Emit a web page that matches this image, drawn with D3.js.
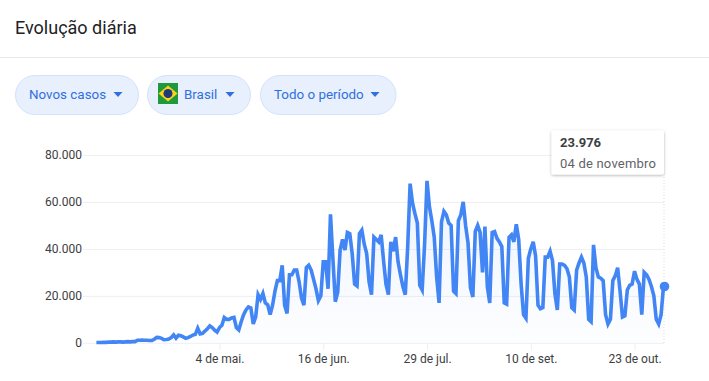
<!DOCTYPE html>
<html lang="pt-BR">
<head>
<meta charset="utf-8">
<title>Evolução diária</title>
<script src="https://cdn.jsdelivr.net/npm/d3@7"></script>
<style>
    html, body { margin: 0; padding: 0; background: #fff; overflow: hidden; }
    svg { display: block; font-family: Roboto, Arial, sans-serif; }
</style>
</head>
<body>
<script>
// Data: new cases per day, first value is 14 March 2020
const firstDay = new Date(2020, 2, 14);
const newCases = [
    100, 100, 100, 200, 200, 300, 300, 400, 300, 400, 400, 300, 400, 500, 400, 500, 500,
    1100, 1100, 1200, 1100, 1100, 1000, 1000, 1500, 2300, 2200, 1900, 1300, 1400, 1600, 2200,
    3400, 2000, 3200, 3000, 2500, 1900, 2200, 2700, 3300, 3600, 6200, 3800, 4000, 5000, 6000,
    7200, 6500, 5400, 4600, 6500, 7500, 10800, 10000, 10000, 10600, 10800, 6500, 5500, 9000,
    12000, 14000, 15300, 14800, 8000, 11000, 20500, 18500, 21000, 17000, 16200, 12000, 16000,
    22000, 26500, 26500, 33000, 16000, 12500, 29000, 29000, 31000, 31000, 26000, 19000,
    16000, 32000, 33000, 31000, 27000, 23000, 18000, 20000, 34500, 34500, 23000, 54700, 36000,
    17500, 21500, 39500, 44000, 39500, 47000, 46500, 38000, 25000, 24200, 46500, 48000, 42000,
    38000, 26000, 20500, 45000, 44000, 43000, 46000, 35000, 25000, 20500, 43000, 39000, 45000,
    34500, 29000, 24000, 20500, 41000, 67800, 59500, 55000, 51000, 24500, 22500, 42000, 69000,
    58000, 52000, 45000, 28000, 17000, 51500, 56000, 54500, 51000, 50000, 22000, 21000, 52000,
    54500, 60000, 50000, 42500, 23500, 19500, 47500, 50000, 47000, 30000, 49500, 24000, 17000,
    47000, 47400, 44500, 43000, 41000, 17000, 16500, 45000, 46000, 43000, 50500, 44000, 25000,
    12000, 10500, 36000, 40000, 43000, 37000, 16000, 14500, 15000, 36500, 36500, 39000, 35000,
    21000, 14000, 33500, 33500, 33000, 31500, 28000, 15000, 14000, 31000, 34000, 36500, 34000,
    28000, 10000, 9000, 41700, 32000, 28000, 27500, 26500, 12000, 8000, 10000, 26500, 28500,
    32000, 22000, 11000, 11500, 22500, 24500, 25000, 30500, 27000, 25000, 12000, 30000, 29000,
    27000, 24000, 20000, 10000, 8000, 12000, 23976
];
const yTicks = [0, 20000, 40000, 60000, 80000];
const xTickDates = [new Date(2020, 4, 4), new Date(2020, 5, 16), new Date(2020, 6, 29), new Date(2020, 8, 10), new Date(2020, 9, 23)];
const xTickLabels = ["4 de mai.", "16 de jun.", "29 de jul.", "10 de set.", "23 de out."];
const pillLabels = ["Novos casos", "Brasil", "Todo o período"];

const width = 709, height = 381;
const lineColor = "#4285f4";

const days = newCases.map(function (d, i) { return d3.timeDay.offset(firstDay, i); });

let svg = d3.select("body").append("svg")
    .attr("width", width)
    .attr("height", height);

// set the ranges
let x = d3.scaleTime().domain([firstDay, days[days.length - 1]]).range([96.4, 663.5]);
let y = d3.scaleLinear().domain([0, 80000]).range([342.8, 155]);

// header
svg.append("text")
    .attr("x", 15).attr("y", 34)
    .style("font-size", "18px")
    .style("fill", "#202124")
    .text("Evolução diária");

svg.append("line")
    .attr("x1", 0).attr("x2", width)
    .attr("y1", 57.5).attr("y2", 57.5)
    .style("stroke", "#e8eaed");

// filter pills
const pills = [
    {x: 15, w: 123, textX: 29, arrowX: 118},
    {x: 147, w: 103, textX: 184, arrowX: 230},
    {x: 260, w: 135.5, textX: 274, arrowX: 375}
];
pills.forEach(function (p, i) {
    svg.append("rect")
        .attr("x", p.x + 0.5).attr("y", 75.5)
        .attr("width", p.w).attr("height", 39)
        .attr("rx", 19.5)
        .style("fill", "#e8f0fe")
        .style("stroke", "#d2e3fc");
    svg.append("text")
        .attr("x", p.textX).attr("y", 99)
        .style("font-size", "13.4px")
        .style("fill", "#2f6fde")
        .text(pillLabels[i]);
    svg.append("path")
        .attr("d", "M" + (p.arrowX - 4.5) + ",92 h9 l-4.5,5 z")
        .style("fill", "#2f6fde");
});

// flag
let flag = svg.append("g").attr("transform", "translate(158,83)");
flag.append("rect").attr("width", 20).attr("height", 21).style("fill", "#1e9a3c");
flag.append("path").attr("d", "M10,2.5 L19.5,10.5 L10,18.5 L0.5,10.5 Z").style("fill", "#fcd116");
flag.append("circle").attr("cx", 10).attr("cy", 10.5).attr("r", 4.5).style("fill", "#1d3a7d");

// gradient under the line
let grad = svg.append("defs").append("linearGradient")
    .attr("id", "areaFill")
    .attr("x1", 0).attr("x2", 0).attr("y1", 0).attr("y2", 1);
grad.append("stop").attr("offset", "0%").style("stop-color", lineColor).style("stop-opacity", 0.1);
grad.append("stop").attr("offset", "100%").style("stop-color", lineColor).style("stop-opacity", 0.01);

// Y axis with grid lines
let yAxis = svg.append("g")
    .attr("transform", "translate(664,0)")
    .call(d3.axisLeft(y)
        .tickValues(yTicks)
        .tickSize(581)
        .tickPadding(1)
        .tickFormat(function (d) { return d3.format(",")(d).replace(/,/g, "."); }));
yAxis.select(".domain").remove();
yAxis.selectAll("line").style("stroke", "#eeeff1");
yAxis.selectAll("text").style("font-size", "12px").style("fill", "#3c4043").style("font-family", "Roboto, Arial, sans-serif");

// X axis
let xAxis = svg.append("g")
    .attr("transform", "translate(0,343)")
    .call(d3.axisBottom(x)
        .tickValues(xTickDates)
        .tickSize(7)
        .tickPadding(4)
        .tickFormat(function (d, i) { return xTickLabels[i]; }));
xAxis.select(".domain").remove();
xAxis.selectAll("line").style("stroke", "#eeeff1");
xAxis.selectAll("text").style("font-size", "12px").style("fill", "#3c4043").style("font-family", "Roboto, Arial, sans-serif");

// area and line
let area = d3.area()
    .x(function (d, i) { return x(days[i]); })
    .y0(y(0))
    .y1(function (d) { return y(d); });
let line = d3.line()
    .x(function (d, i) { return x(days[i]); })
    .y(function (d) { return y(d); });

svg.append("path").datum(newCases)
    .attr("d", area)
    .style("fill", "url(#areaFill)");

const lastX = x(days[days.length - 1]);
const lastY = y(newCases[newCases.length - 1]);

// dotted leader from the tooltip to the axis
svg.append("line")
    .attr("x1", lastX + 0.5).attr("x2", lastX + 0.5)
    .attr("y1", 174).attr("y2", 343)
    .style("stroke", "#dadce0")
    .style("stroke-dasharray", "1,2");

svg.append("path").datum(newCases)
    .attr("d", line)
    .style("fill", "none")
    .style("stroke", lineColor)
    .style("stroke-width", 3.6);

svg.append("circle")
    .attr("cx", lastX + 1).attr("cy", lastY)
    .attr("r", 4.8)
    .style("fill", lineColor);

// tooltip
let shadow = svg.select("defs").append("filter")
    .attr("id", "tipShadow")
    .attr("x", "-10%").attr("y", "-20%").attr("width", "120%").attr("height", "150%");
shadow.append("feDropShadow")
    .attr("dx", 0).attr("dy", 1).attr("stdDeviation", 1.5)
    .attr("flood-color", "#000").attr("flood-opacity", 0.3);

svg.append("rect")
    .attr("x", 551.5).attr("y", 130.5)
    .attr("width", 112.5).attr("height", 44)
    .attr("rx", 2)
    .style("fill", "#fff")
    .style("filter", "url(#tipShadow)");
svg.append("text")
    .attr("x", 560).attr("y", 147)
    .style("font-size", "13px")
    .style("font-weight", 700)
    .style("fill", "#3c4043")
    .text("23.976");
svg.append("text")
    .attr("x", 560).attr("y", 168)
    .style("font-size", "13px")
    .style("letter-spacing", "0.2px")
    .style("fill", "#5f6368")
    .text("04 de novembro");
</script>
</body>
</html>
